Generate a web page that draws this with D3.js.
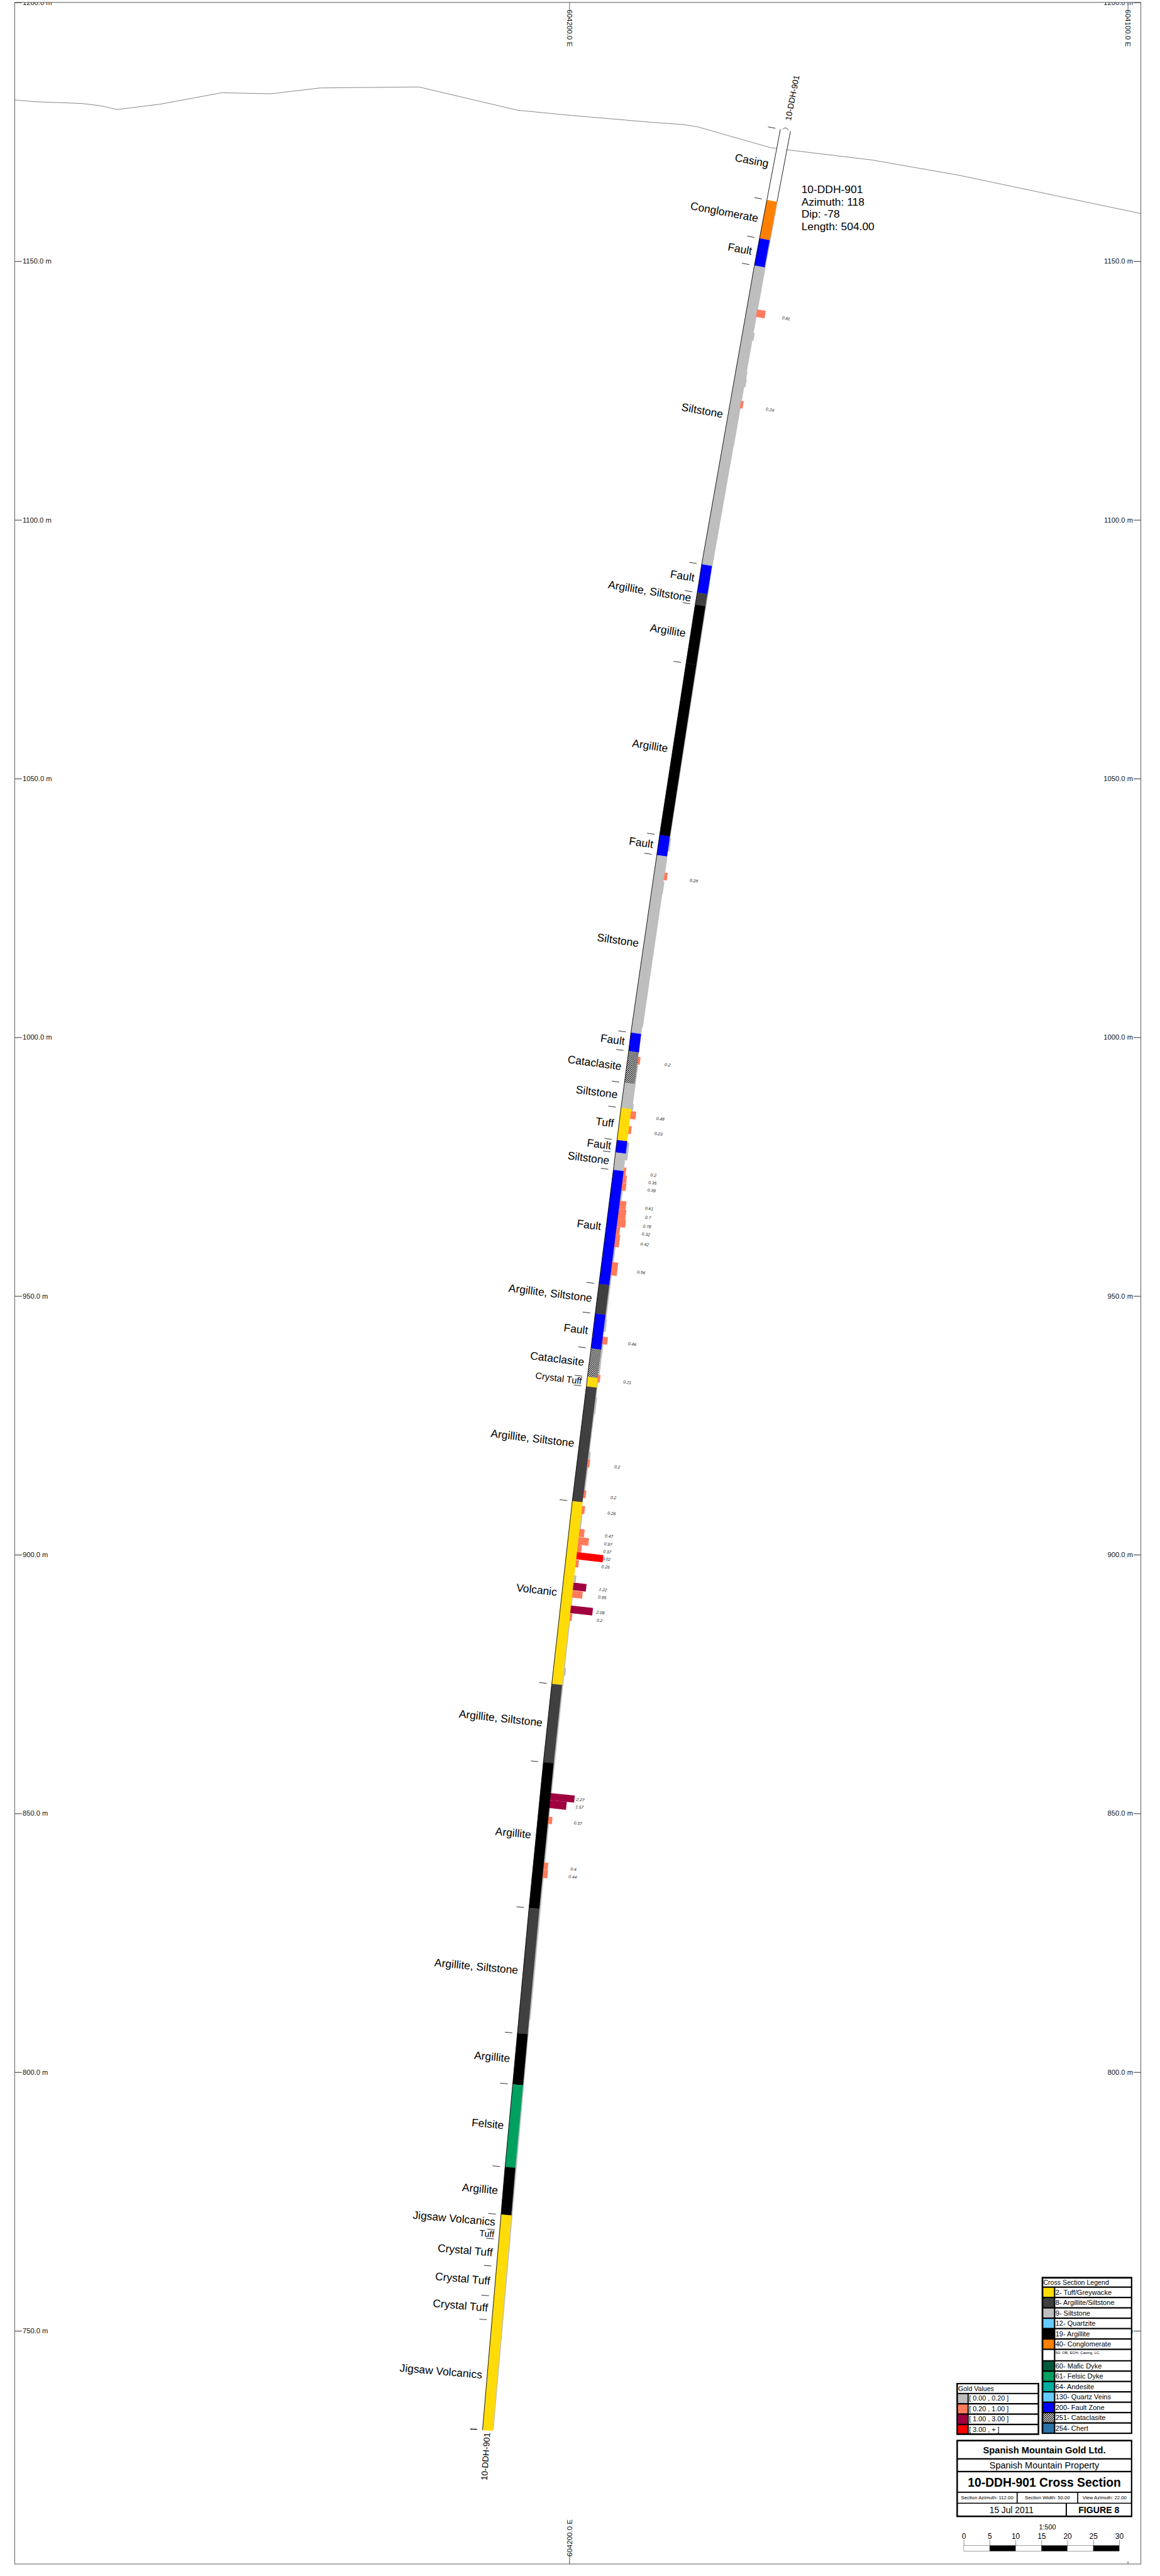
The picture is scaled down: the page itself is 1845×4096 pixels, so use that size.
<!DOCTYPE html>
<html>
<head>
<meta charset="utf-8">
<title>10-DDH-901 Cross Section</title>
<script src="https://cdn.jsdelivr.net/npm/d3@7"></script>
<style>
html, body { margin: 0; padding: 0; background: #fff; overflow: hidden; }
svg { display: block; }
text { font-family: "Liberation Sans", Arial, sans-serif; }
</style>
</head>
<body>
<div id="chart"></div>
<script>
// axis ticks
const elevTicks = [1200, 1150, 1100, 1050, 1000, 950, 900, 850, 800, 750]
const eastTicks = [604200, 604100]

// surface profile
const terrainEast = [604299.33, 604295.83, 604287.25, 604284.0, 604281.0, 604273.35, 604262.25, 604253.43, 604244.61, 604226.96,
    604209.31, 604200.49, 604185.54, 604179.56, 604176.92, 604164.09, 604162.87, 604145.79, 604130.39, 604097.67]
const terrainElev = [1181.18, 1180.85, 1180.49, 1180.06, 1179.33, 1180.35, 1182.57, 1182.37, 1183.5, 1183.69,
    1179.2, 1178.27, 1176.88, 1176.42, 1175.95, 1171.99, 1171.79, 1169.57, 1166.66, 1159.22]

// hole trace, one point for every contact
const contactElev = [1175.33, 1161.67, 1154.24, 1149.0, 1091.26, 1085.8, 1083.48, 1072.16, 1038.96, 1035.09, 1000.79, 997.21,
    991.1, 986.27, 980.04, 977.63, 974.26, 952.23, 946.49, 939.77, 934.28, 932.42, 910.26, 874.94, 859.82, 831.65,
    807.43, 797.57, 781.6, 772.41, 769.39, 767.61, 762.38, 756.63, 751.99, 730.76]
const contactEast = [604161.31, 604163.73, 604165.05, 604165.97, 604175.4, 604176.2, 604176.56, 604178.19, 604182.93, 604183.44,
    604188.07, 604188.48, 604189.23, 604189.85, 604190.56, 604190.83, 604191.21, 604193.79, 604194.46, 604195.22, 604195.87,
    604196.05, 604198.57, 604202.24, 604203.74, 604206.31, 604208.39, 604209.23, 604210.6, 604211.32, 604211.56, 604211.7,
    604212.12, 604212.58, 604212.95, 604214.64]

// lithology between the contacts
const lithoNames = ["Casing", "Conglomerate", "Fault", "Siltstone", "Fault", "Argillite, Siltstone", "Argillite", "Argillite",
    "Fault", "Siltstone", "Fault", "Cataclasite", "Siltstone", "Tuff", "Fault", "Siltstone", "Fault", "Argillite, Siltstone",
    "Fault", "Cataclasite", "Crystal Tuff", "Argillite, Siltstone", "Volcanic", "Argillite, Siltstone", "Argillite",
    "Argillite, Siltstone", "Argillite", "Felsite", "Argillite", "Jigsaw Volcanics", "Tuff", "Crystal Tuff", "Crystal Tuff",
    "Crystal Tuff", "Jigsaw Volcanics"]
const lithoCodes = [50, 40, 200, 9, 200, 8, 19, 19, 200, 9, 200, 251, 9, 2, 200, 9, 200, 8, 200, 251, 2, 8, 2, 8, 19, 8, 19, 61, 19,
    2, 2, 2, 2, 2, 2]

// gold assays with a printed value
const goldTop = [1140.89, 1123.23, 1032.01, 996.35, 985.9, 982.99, 974.99, 973.47, 972.01, 968.57, 966.98, 965.07, 963.54, 962.08,
    956.73, 942.31, 934.9, 918.56, 912.61, 909.57, 905.13, 903.55, 902.09, 900.64, 899.12, 894.75, 893.22, 890.32, 888.79,
    854.06, 852.68, 849.5, 840.64, 839.18]
const goldBot = [1139.44, 1121.78, 1030.56, 994.9, 984.38, 981.47, 973.47, 972.01, 970.55, 966.98, 965.07, 963.54, 962.08, 959.64,
    954.15, 940.85, 933.45, 917.04, 911.09, 908.04, 903.61, 902.09, 900.64, 899.25, 897.72, 893.29, 891.84, 888.86, 887.34,
    852.68, 851.15, 848.11, 839.18, 837.66]
const goldVal = [0.81, 0.24, 0.28, 0.2, 0.48, 0.23, 0.2, 0.35, 0.39, 0.61, 0.7, 0.78, 0.32, 0.42, 0.56, 0.46, 0.21, 0.2, 0.2, 0.26,
    0.47, 0.97, 0.37, 3.02, 0.26, 1.22, 0.95, 2.08, 0.2, 2.27, 1.57, 0.37, 0.4, 0.44]

// low gold runs, no label (estimated from the grey sliver on the hole)
const lowTop = [1161.47, 1136.33, 1134.87, 1128.92, 1127.46, 1125.88, 1121.78, 1114.5, 1091.34, 1038.7, 1035.0, 1030.3, 1027.87, 994.76,
    987.29, 979.82, 970.55, 959.64, 954.15, 945.62, 940.85, 933.45, 930.6, 927.3, 920.02, 917.04, 908.04, 896.14, 891.84, 887.34,
    878.28, 876.75, 851.15, 848.11, 837.66, 810.21]
const lowBot = [1136.33, 1134.87, 1128.92, 1127.46, 1125.88, 1123.23, 1114.5, 1091.34, 1039, 1036.11, 1032.01, 1027.87, 1002.04, 987.29,
    985.97, 976.38, 968.57, 956.73, 945.62, 943.24, 934.9, 930.6, 927.3, 920.02, 918.56, 912.61, 905.13, 894.81, 890.32, 878.28,
    876.75, 854.06, 849.5, 840.64, 810.21, 731]
const lowVal = [0.03, 0.15, 0.04, 0.1, 0.16, 0.05, 0.05, 0.03, 0.03, 0.12, 0.02, 0.08, 0.04, 0.07, 0.16, 0.19, 0.12, 0.12, 0.1, 0.18,
    0.12, 0.06, 0.14, 0.06, 0.18, 0.1, 0.1, 0.18, 0.05, 0.06, 0.18, 0.08, 0.08, 0.1, 0.1, 0.04]

// legends
const legendCodes = [2, 8, 9, 12, 19, 40, 50, 60, 61, 64, 130, 200, 251, 254]
const legendNames = ["2- Tuff/Greywacke", "8- Argillite/Siltstone", "9- Siltstone", "12- Quartzite", "19- Argillite", "40- Conglomerate",
    "50- OB, EOH, Casing, LC", "60- Mafic Dyke", "61- Felsic Dyke", "64- Andesite", "130- Quartz Veins", "200- Fault Zone",
    "251- Cataclasite", "254- Chert"]
const legendColors = ["#FFDC08", "#404040", "#BEBEBE", "#66CCFF", "#000000", "#FF8000", "#FFFFFF", "#005A3C", "#00A060", "#00AFA0",
    "#66CCFF", "#0000FF", "url(#cataclasite)", "#2B72A8"]
const goldBreaks = [0.2, 1, 3]
const goldColors = ["#BEBEBE", "#FF7B5C", "#A00040", "#FF0000"]
const goldRanges = ["[ 0.00 , 0.20 ]", "[ 0.20 , 1.00 ]", "[ 1.00 , 3.00 ]", "[ 3.00 , + ]"]
const scaleTicks = [0, 5, 10, 15, 20, 25, 30]
const infoLines = ["10-DDH-901", "Azimuth: 118", "Dip: -78", "Length: 504.00"]

// everything below is in reference pixels, the viewBox brings it down to the window
const W = 3390, H = 7526
const frame = {left: 43, right: 3334, top: 7, bottom: 7491}
const holeHalf = 15

const svg = d3.select("#chart").append("svg")
    .attr("width", 1845).attr("height", 4096)
    .attr("viewBox", `0 0 ${W} ${H}`)

const defs = svg.append("defs")
const pat = defs.append("pattern").attr("id", "cataclasite")
    .attr("width", 6).attr("height", 6).attr("patternUnits", "userSpaceOnUse")
pat.append("rect").attr("width", 6).attr("height", 6).attr("fill", "#fff")
pat.append("rect").attr("width", 3).attr("height", 3).attr("fill", "#000")
pat.append("rect").attr("x", 3).attr("y", 3).attr("width", 3).attr("height", 3).attr("fill", "#000")
defs.append("clipPath").attr("id", "frameClip").append("rect")
    .attr("x", frame.left).attr("y", frame.top)
    .attr("width", frame.right - frame.left).attr("height", frame.bottom - frame.top)

const x = d3.scaleLinear().domain([604200, 604100]).range([1664, 3296])
const y = d3.scaleLinear().domain([1200, 750]).range([7.5, 6810])

const lithoColor = d3.scaleOrdinal().domain(legendCodes).range(legendColors)
const goldColor = d3.scaleThreshold().domain(goldBreaks).range(goldColors)
const goldLen = d3.scaleLinear().domain([0, 2.5]).range([1, 78]).clamp(true)

// position on the hole for a pixel height
const traceY = contactElev.map(d => y(d))
const traceX = contactEast.map(d => x(d))
const holeX = d3.scaleLinear().domain(traceY).range(traceX)

function tilt(py) {
    let a = Math.max(py - 250, traceY[0]), b = Math.min(py + 250, traceY[traceY.length - 1])
    return Math.atan2(holeX(a) - holeX(b), b - a)
}

// point off the hole centre, along the normal (positive to the right)
function off(py, d) {
    let t = tilt(py)
    return [holeX(py) + d * Math.cos(t), py + d * Math.sin(t)]
}

function deg(py) { return tilt(py) * 180 / Math.PI }

// frame and axes
svg.append("rect").attr("width", W).attr("height", H).attr("fill", "#fff")

const axes = svg.append("g").attr("clip-path", "url(#frameClip)")
const elevFmt = d => d.toFixed(1) + " m"
const eastFmt = d => d.toFixed(1) + " E"

const leftAxis = axes.append("g").attr("transform", `translate(${frame.left},0)`)
    .call(d3.axisRight(y).tickValues(elevTicks).tickSize(21).tickPadding(2).tickFormat(elevFmt))
const rightAxis = axes.append("g").attr("transform", `translate(${frame.right},0)`)
    .call(d3.axisLeft(y).tickValues(elevTicks).tickSize(21).tickPadding(2).tickFormat(elevFmt))
const topAxis = axes.append("g").attr("transform", `translate(0,${frame.top})`)
    .call(d3.axisBottom(x).tickValues(eastTicks).tickSize(21).tickFormat(eastFmt))
topAxis.selectAll("text").attr("transform", "rotate(90)").attr("x", 21).attr("y", 0).attr("dy", ".35em")
    .attr("text-anchor", "start").attr("font-size", 21.2)
const bottomAxis = axes.append("g").attr("transform", `translate(0,${frame.bottom})`)
    .call(d3.axisTop(x).tickValues(eastTicks).tickSize(23).tickFormat(d => d == 604200 ? eastFmt(d) : ""))
bottomAxis.selectAll("text").attr("transform", "rotate(-90)").attr("x", 22).attr("y", 0).attr("dy", ".35em")
    .attr("text-anchor", "start").attr("font-size", 21.2)
bottomAxis.selectAll("line").attr("stroke", "#666").attr("stroke-width", 2.2)
    .attr("y2", d => d == 604200 ? -23 : -8)

axes.selectAll(".domain").remove()
leftAxis.selectAll("text").attr("font-size", 20.6)
rightAxis.selectAll("text").attr("font-size", 20.6)
leftAxis.selectAll("line").attr("stroke-width", 1.5)
rightAxis.selectAll("line").attr("stroke-width", 1.5)
topAxis.selectAll("line").attr("stroke", "#444").attr("stroke-width", 1.5)
axes.selectAll("text").attr("font-family", null).attr("fill", "#111")

svg.append("rect")
    .attr("x", frame.left).attr("y", frame.top)
    .attr("width", frame.right - frame.left).attr("height", frame.bottom - frame.top)
    .attr("fill", "none").attr("stroke", "#666").attr("stroke-width", 2)

// surface
const terrainLine = d3.line().x(d => x(d[0])).y(d => y(d[1]))
svg.append("path")
    .attr("d", terrainLine(d3.zip(terrainEast, terrainElev)))
    .attr("fill", "none").attr("stroke", "#222").attr("stroke-width", 1)

// gold bars sit under the hole, they start just inside its right edge
function barPoints(top, bot, val) {
    let a = y(top), b = y(bot), len = goldLen(val)
    return [off(a, holeHalf - 2), off(a, holeHalf + len), off(b, holeHalf + len), off(b, holeHalf - 2)]
}

svg.append("g").selectAll("polygon")
    .data(d3.zip(lowTop, lowBot, lowVal))
    .enter().append("polygon")
    .attr("points", d => barPoints(d[0], d[1], d[2]).join(" "))
    .attr("fill", d => goldColor(d[2]))

const goldData = d3.zip(goldTop, goldBot, goldVal)
svg.append("g").selectAll("polygon")
    .data(goldData)
    .enter().append("polygon")
    .attr("points", d => barPoints(d[0], d[1], d[2]).join(" "))
    .attr("fill", d => goldColor(d[2]))

// lithology
const intervals = lithoCodes.map((code, i) => ({code: code, name: lithoNames[i], a: traceY[i], b: traceY[i + 1]}))

svg.append("g").selectAll("polygon")
    .data(intervals)
    .enter().append("polygon")
    .attr("points", d => [off(d.a, -holeHalf), off(d.a, holeHalf), off(d.b, holeHalf), off(d.b, -holeHalf)].join(" "))
    .attr("fill", d => lithoColor(d.code))
    .attr("stroke", d => d.code == 251 ? "none" : lithoColor(d.code))
    .attr("stroke-width", 0.6)

// black left side, casing has both sides
const edgeLine = d3.line()
svg.append("path")
    .attr("d", edgeLine(traceY.map(d => off(d, -holeHalf))))
    .attr("fill", "none").attr("stroke", "#000").attr("stroke-width", 1.6)
svg.append("path")
    .attr("d", edgeLine([off(traceY[0], holeHalf), off(traceY[1], holeHalf)]))
    .attr("fill", "none").attr("stroke", "#000").attr("stroke-width", 1.6)
let collarL = off(traceY[0] - 1, -8), collarR = off(traceY[0] - 1, 8)
svg.append("path")
    .attr("d", `M${collarL}A8.5,8.5 0 0 1 ${collarR}`)
    .attr("fill", "none").attr("stroke", "#000").attr("stroke-width", 1.2)

// contact ticks
svg.append("g").selectAll("line")
    .data(traceY)
    .enter().append("line")
    .attr("x1", d => off(d, -holeHalf - 15)[0]).attr("y1", d => off(d, -holeHalf - 15)[1])
    .attr("x2", d => off(d, -holeHalf - 37)[0]).attr("y2", d => off(d, -holeHalf - 37)[1])
    .attr("stroke", "#000").attr("stroke-width", 1.5)

let eoh = off(traceY[traceY.length - 1], -holeHalf - 26)
svg.append("text").attr("x", eoh[0]).attr("y", eoh[1]).attr("dy", ".35em")
    .attr("text-anchor", "middle").attr("font-size", 8).attr("fill", "#000").text("EOH")

// lithology labels, thin intervals get a smaller font
svg.append("g").selectAll("text")
    .data(intervals)
    .enter().append("text")
    .attr("transform", d => {
        let m = (d.a + d.b) / 2, p = off(m, -holeHalf - 15)
        return `translate(${p[0]},${p[1]}) rotate(${deg(m)})`
    })
    .attr("text-anchor", "end").attr("dy", ".35em")
    .attr("font-size", d => (d.b - d.a) < 30 ? d.b - d.a - 1 : 32)
    .attr("fill", "#000")
    .text(d => d.name)

// gold labels
svg.append("g").selectAll("text")
    .data(goldData)
    .enter().append("text")
    .attr("transform", d => {
        let m = (y(d[0]) + y(d[1])) / 2, p = off(m, holeHalf + 88)
        return `translate(${p[0]},${p[1]}) rotate(${deg(m)})`
    })
    .attr("text-anchor", "middle").attr("dy", ".35em")
    .attr("font-size", 12.4).attr("font-style", "italic").attr("fill", "#222")
    .text(d => d[2])

// hole name at both ends
let nameTop = [holeX(traceY[0]) + 20, traceY[0] - 94.5]
svg.append("text")
    .attr("transform", `translate(${nameTop[0]},${nameTop[1]}) rotate(-79)`)
    .attr("text-anchor", "middle").attr("dy", ".35em").attr("font-size", 24).attr("fill", "#000")
    .text("10-DDH-901")
let last = traceY[traceY.length - 1]
svg.append("text")
    .attr("transform", `translate(${holeX(last) - 6},${last + 76}) rotate(-86.4)`)
    .attr("text-anchor", "middle").attr("dy", ".35em").attr("font-size", 25).attr("fill", "#000")
    .text("10-DDH-901")

svg.append("g").selectAll("text")
    .data(infoLines)
    .enter().append("text")
    .attr("x", 2342).attr("y", (d, i) => 564 + i * 36)
    .attr("font-size", 32).attr("fill", "#000")
    .text(d => d)

// cross section legend
const lg = svg.append("g")
lg.append("rect").attr("x", 3044).attr("y", 6652).attr("width", 265).attr("height", 459).attr("fill", "#000")
lg.append("rect").attr("x", 3049).attr("y", 6657).attr("width", 256).attr("height", 23).attr("fill", "#fff")
lg.append("text").attr("x", 3049).attr("y", 6675).attr("font-size", 19.5).attr("fill", "#000").text("Cross Section Legend")

const rowTop = i => 6684 + i * 30.3 + (i > 6 ? 3 : 0)
const rowH = i => i == 6 ? 29.6 : 26.2
const lgRows = lg.selectAll("g").data(legendNames).enter().append("g")
lgRows.append("rect")
    .attr("x", 3049).attr("y", (d, i) => rowTop(i))
    .attr("width", 31).attr("height", (d, i) => rowH(i))
    .attr("fill", (d, i) => legendColors[i])
lgRows.append("rect")
    .attr("x", 3084).attr("y", (d, i) => rowTop(i))
    .attr("width", 221).attr("height", (d, i) => rowH(i))
    .attr("fill", "#fff")
lgRows.append("text")
    .attr("x", 3084.5).attr("y", (d, i) => i == 6 ? rowTop(i) + 11 : rowTop(i) + 20.5)
    .attr("font-size", (d, i) => i == 6 ? 11.3 : 20.3).attr("fill", "#000")
    .text(d => d)

// gold legend
const gl = svg.append("g")
gl.append("rect").attr("x", 2795).attr("y", 6962).attr("width", 242).attr("height", 152).attr("fill", "#000")
gl.append("rect").attr("x", 2799.5).attr("y", 6966).attr("width", 233).attr("height", 25).attr("fill", "#fff")
gl.append("text").attr("x", 2800).attr("y", 6985).attr("font-size", 19.5).attr("fill", "#000").text("Gold Values")
const glRows = gl.selectAll("g").data(goldRanges).enter().append("g")
glRows.append("rect")
    .attr("x", 2799.5).attr("y", (d, i) => 6994.7 + i * 30.2)
    .attr("width", 28).attr("height", (d, i) => i == 3 ? 24 : 26)
    .attr("fill", (d, i) => goldColors[i])
glRows.append("rect")
    .attr("x", 2831).attr("y", (d, i) => 6994.7 + i * 30.2)
    .attr("width", 201.5).attr("height", (d, i) => i == 3 ? 24 : 26)
    .attr("fill", "#fff")
glRows.append("text")
    .attr("x", 2832).attr("y", (d, i) => 7014 + i * 30.2)
    .attr("font-size", 19.8).attr("fill", "#000")
    .text(d => d)

// title block
const tb = svg.append("g")
tb.append("rect").attr("x", 2795).attr("y", 7128).attr("width", 514).attr("height", 226).attr("fill", "#000")
const cells = [
    [2799.5, 7132.7, 505.5, 49], [2799.5, 7185.8, 505.5, 33], [2799.5, 7223, 505.5, 56.6],
    [2799.5, 7283, 171.5, 29], [2974, 7283, 174, 29], [3151, 7283, 154, 29],
    [2799.5, 7314.8, 315, 34.6], [3118, 7314.8, 187, 34.6]]
tb.selectAll("rect.cell").data(cells).enter().append("rect").attr("class", "cell")
    .attr("x", d => d[0]).attr("y", d => d[1]).attr("width", d => d[2]).attr("height", d => d[3])
    .attr("fill", "#fff")
const titleText = (s, cx, by, size, bold) => tb.append("text")
    .attr("x", cx).attr("y", by).attr("text-anchor", "middle")
    .attr("font-size", size).attr("font-weight", bold ? "bold" : "normal").attr("fill", "#000").text(s)
titleText("Spanish Mountain Gold Ltd.", 3052, 7168, 27, true)
titleText("Spanish Mountain Property", 3052, 7212.6, 26.6, false)
titleText("10-DDH-901 Cross Section", 3052, 7264.5, 35.5, true)
titleText("Section Azimuth: 112.00", 2885, 7302.5, 14.3, false)
titleText("Section Width: 50.00", 3061, 7302.5, 14.3, false)
titleText("View Azimuth: 22.00", 3228, 7302.5, 14.3, false)
titleText("15 Jul 2011", 2956, 7342.7, 25.3, false)
titleText("FIGURE 8", 3211.4, 7342.7, 26, true)
titleText("1:500", 3061, 7390, 19.7, false)

// scale bar
const sx = d3.scaleLinear().domain([0, 30]).range([2816.6, 3270.9])
const sb = svg.append("g").attr("transform", "translate(0,7436.6)")
    .call(d3.axisTop(sx).tickValues(scaleTicks).tickSize(15.5).tickPadding(3).tickFormat(d => d))
sb.select(".domain").remove()
sb.selectAll("text").attr("font-size", 22).attr("font-family", null).attr("fill", "#000")
sb.selectAll("line").attr("stroke", "#555").attr("stroke-width", 1.2)
sb.selectAll("rect").data(d3.pairs(scaleTicks)).enter().append("rect")
    .attr("x", d => sx(d[0])).attr("y", 0)
    .attr("width", d => sx(d[1]) - sx(d[0])).attr("height", 16.8)
    .attr("fill", (d, i) => i % 2 ? "#000" : "#fff")
    .attr("stroke", "#555").attr("stroke-width", 1)
</script>
</body>
</html>
